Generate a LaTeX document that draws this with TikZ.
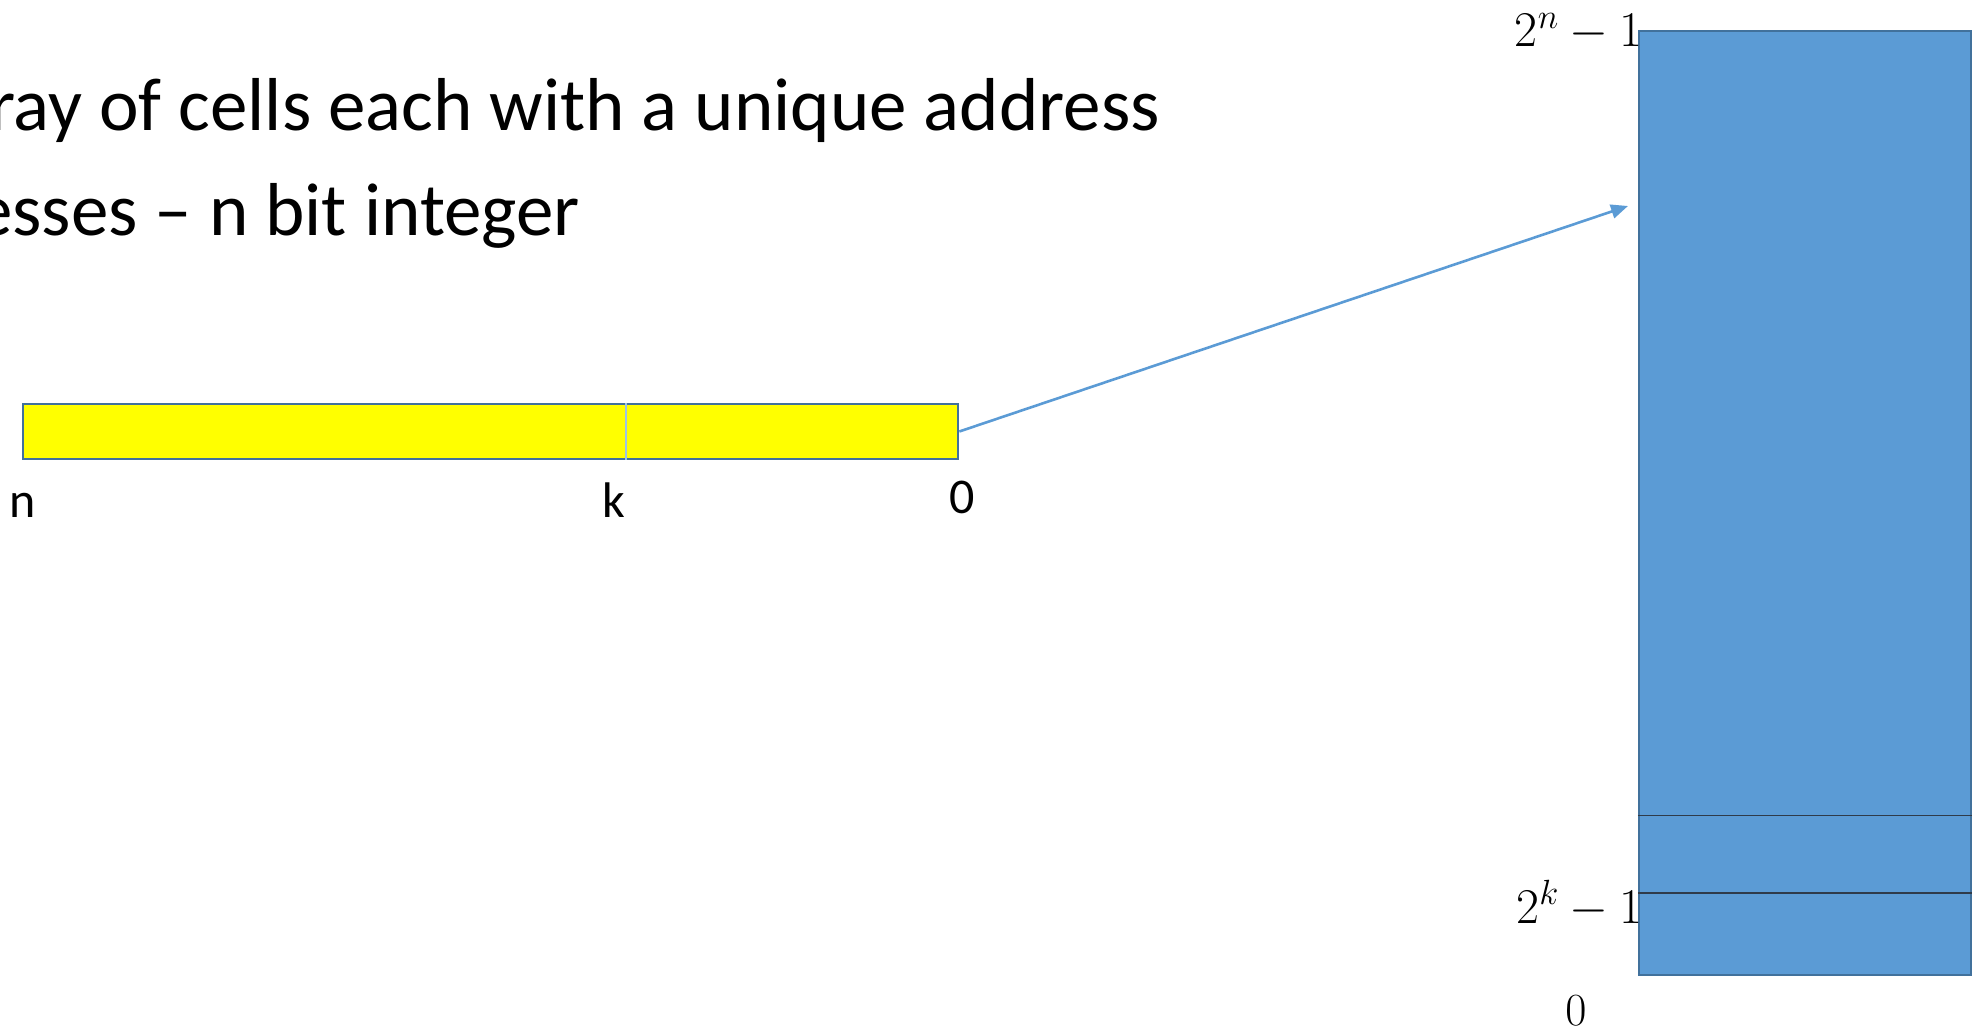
\RequirePackage{fix-cm}
\documentclass[tikz,border=0pt]{standalone}
\usepackage{fontspec}
\setmainfont{Carlito}
\usetikzlibrary{calc,positioning,arrows.meta}

\definecolor{cellblue}{HTML}{5B9BD5}
\definecolor{edgeblue}{HTML}{41719C}
\definecolor{splitblue}{HTML}{9DC3E6}
\definecolor{rowline}{HTML}{2F3B4A}
\definecolor{bitfill}{HTML}{FFFF00}

\begin{document}
\begin{tikzpicture}[x=1pt,y=-1pt,
        bits/.style={draw=edgeblue, line width=2.6pt, fill=bitfill, inner sep=0pt,
            minimum width=935pt, minimum height=55pt},
        memory/.style={draw=edgeblue, line width=2.4pt, fill=cellblue, inner sep=0pt,
            minimum width=332pt, minimum height=944pt},
        bullet/.style={font=\fontsize{75}{75}\selectfont, inner sep=0pt, anchor=base west},
        idx/.style={font=\fontsize{50}{50}\selectfont, inner sep=0pt, anchor=base},
        bound/.style={font=\fontsize{50}{50}\selectfont, inner sep=0pt, anchor=base east}]
    \useasboundingbox (0,0) rectangle (1986,1032);

    % text lines
    \node[bullet] (line_1) at (-11,131) {ray of cells each with a unique address};
    \node[bullet] (line_2) at (-25,236) {esses -- n bit integer};

    % address register
    \node[bits] (addr) at (490.5,431.5) {};
    \coordinate (k_pos) at (626,0);
    \draw[splitblue, line width=1.2pt] (addr.north -| k_pos) -- (addr.south -| k_pos);
    \node[idx] (b_n) at (23,517) {n};
    \node[idx] (b_k) at (614,517) {k};
    \node[idx] (b_0) at (962,513) {0};

    % memory array
    \node[memory] (mem) at (1805,503.2) {};
    \coordinate (row_a) at (0,815.7);
    \coordinate (row_b) at (0,893);
    \draw[rowline, line width=1.5pt]
        (mem.west |- row_a) -- (mem.east |- row_a)
        (mem.west |- row_b) -- (mem.east |- row_b);
    \node[bound] (top_addr) at (1643,47) {$2^n - 1$};
    \node[bound] (k_addr) at (1643,923) {$2^k - 1$};
    \node[idx, font=\fontsize{46}{46}\selectfont] (zero_addr) at (1576,1025) {$0$};

    % lookup
    \coordinate (hit) at (1628,206);
    \path[-{Triangle[length=17pt,width=14pt]}, cellblue, line width=2.6pt]
        (addr.east) edge (hit);
\end{tikzpicture}
\end{document}
